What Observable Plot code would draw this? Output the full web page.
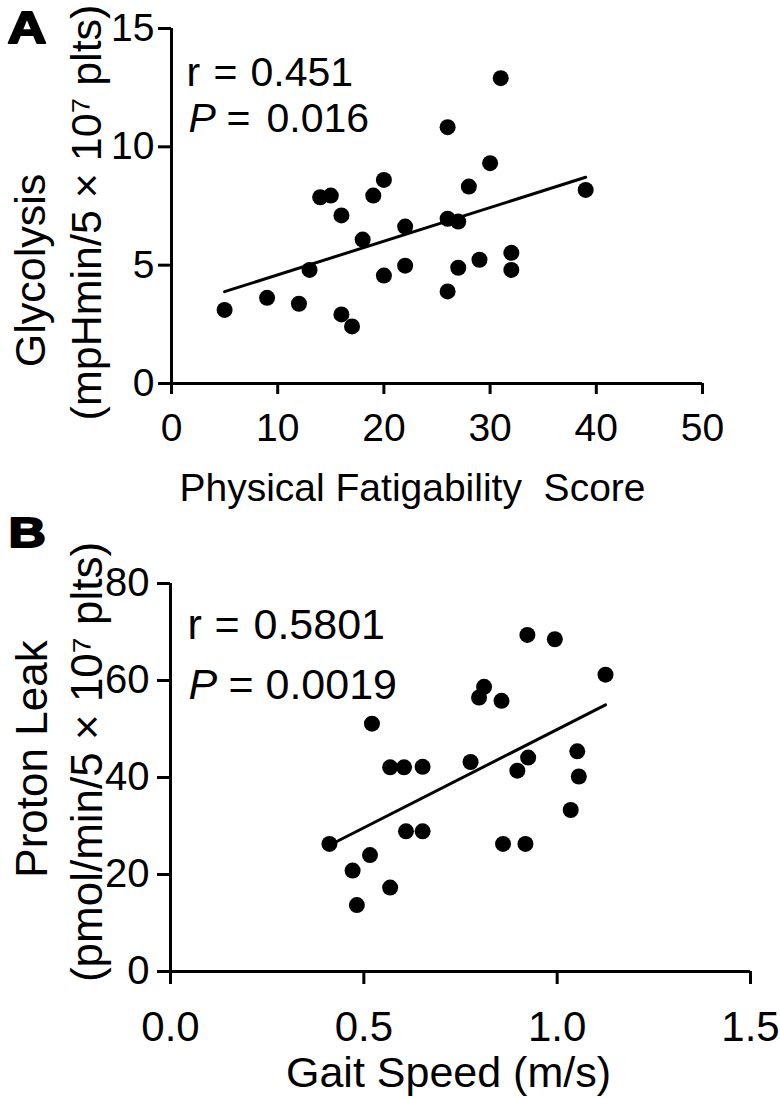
<!DOCTYPE html>
<html>
<head>
<meta charset="utf-8">
<script src="https://cdn.jsdelivr.net/npm/d3@7"></script>
<script src="https://cdn.jsdelivr.net/npm/@observablehq/plot@0.6"></script>
<style>
  html, body { margin: 0; padding: 0; background: #fff; }
  #chart { position: relative; width: 780px; height: 1098px; background: #fff; }
  #chart svg { display: block; }
</style>
</head>
<body>
<div id="chart"></div>
<script>
// ---------- Panel A data ----------
const fatigability = [5, 9, 12, 13, 14, 15, 16, 16, 17, 18, 19, 20, 20, 22, 22, 26, 26, 26, 27, 27, 28, 29, 30, 31, 32, 32, 39];
const glycolysis   = [3.11, 3.62, 3.37, 4.80, 7.87, 7.94, 7.10, 2.92, 2.41, 6.08, 7.94, 8.60, 4.56, 6.63, 4.98, 10.83, 6.96, 3.89, 6.84, 4.89, 8.32, 5.23, 9.31, 12.90, 5.52, 4.80, 8.18];
const xDomainA = [0, 50];
const yDomainA = [0, 15];
const xTicksA = [0, 10, 20, 30, 40, 50];
const yTicksA = [0, 5, 10, 15];
const statsA = {r: "0.451", p: "0.016"};

// ---------- Panel B data ----------
const gaitSpeed  = [0.411, 0.471, 0.482, 0.516, 0.521, 0.568, 0.568, 0.604, 0.609, 0.652, 0.652, 0.776, 0.798, 0.811, 0.856, 0.860, 0.897, 0.923, 0.925, 0.918, 0.994, 1.035, 1.052, 1.056, 1.125];
const protonLeak = [26.3, 20.8, 13.7, 24.0, 51.1, 17.3, 42.1, 42.1, 28.9, 42.2, 28.9, 43.2, 56.5, 58.7, 55.8, 26.3, 41.4, 69.4, 44.1, 26.3, 68.5, 33.3, 45.4, 40.2, 61.2];
const xDomainB = [0, 1.5];
const yDomainB = [0, 80];
const xTicksB = [0, 0.5, 1.0, 1.5];
const yTicksB = [0, 20, 40, 60, 80];
const statsB = {r: "0.5801", p: "0.0019"};

const FONT = "'Liberation Sans', Arial, Helvetica, sans-serif";

const dataA = fatigability.map((x, i) => ({x, y: glycolysis[i]}));
const dataB = gaitSpeed.map((x, i) => ({x, y: protonLeak[i]}));

// text placed at a pixel spot of the svg (frame top-left + offset)
function label(txt, px, py, M, opts = {}) {
  return Plot.text([txt], {
    frameAnchor: "top-left",
    dx: px - M.left,
    dy: py - M.top,
    lineAnchor: "bottom",
    textAnchor: "start",
    fill: "black",
    ...opts
  });
}

function panel(cfg) {
  const M = cfg.margin;
  const svg = Plot.plot({
    width: 780,
    height: cfg.height,
    marginLeft: M.left, marginRight: M.right, marginTop: M.top, marginBottom: M.bottom,
    style: {fontFamily: FONT, color: "black", background: "transparent", overflow: "visible"},
    x: {domain: cfg.xDomain, label: null},
    y: {domain: cfg.yDomain, label: null},
    marks: [
      Plot.axisX({ticks: cfg.xTicks, tickSize: cfg.xTickSize, tickPadding: cfg.xTickPad, strokeWidth: 3,
                  fontSize: cfg.xTickFont, tickFormat: cfg.xFormat, label: null}),
      Plot.axisY({ticks: cfg.yTicks, tickSize: cfg.yTickSize, tickPadding: cfg.yTickPad, strokeWidth: 3,
                  fontSize: cfg.yTickFont, tickFormat: d => String(d), label: null}),
      Plot.ruleY([cfg.yDomain[0]], {x1: cfg.xDomain[0], x2: cfg.xDomain[1], stroke: "black", strokeWidth: 3}),
      Plot.ruleX([cfg.xDomain[0]], {y1: cfg.yDomain[0], y2: cfg.yDomain[1], stroke: "black", strokeWidth: 3}),
      Plot.linearRegressionY(cfg.data, {x: "x", y: "y", stroke: "black", strokeWidth: 3, ci: 0}),
      Plot.dot(cfg.data, {x: "x", y: "y", r: 8, fill: "black", stroke: "none"}),
      // panel letter
      label(cfg.letter, cfg.letterPos[0], cfg.letterPos[1], M, {fontSize: cfg.letterFont, fontWeight: "bold",
            stroke: "black", strokeWidth: 2, className: "panel-letter"}),
      // stats annotation
      label("r", cfg.ann.r[0], cfg.ann.r[1], M, {fontSize: cfg.annFont}),
      label("=", cfg.ann.req[0], cfg.ann.r[1], M, {fontSize: cfg.annFont}),
      label(cfg.stats.r, cfg.ann.rv[0], cfg.ann.r[1], M, {fontSize: cfg.annFont}),
      label("P", cfg.ann.p[0], cfg.ann.p[1], M, {fontSize: cfg.annFont, fontStyle: "italic"}),
      label("=", cfg.ann.peq[0], cfg.ann.p[1], M, {fontSize: cfg.annFont}),
      label(cfg.stats.p, cfg.ann.pv[0], cfg.ann.p[1], M, {fontSize: cfg.annFont}),
      // x axis title
      label(cfg.xTitle, cfg.xTitlePos[0], cfg.xTitlePos[1], M, {fontSize: cfg.xTitleFont, textAnchor: "middle"}),
      // y axis titles (two lines)
      label(cfg.yTitle1, cfg.yTitle1Pos[0], cfg.yTitle1Pos[1], M, {fontSize: cfg.yTitleFont, textAnchor: "middle", rotate: -90}),
      label(cfg.yTitle2, cfg.yTitle2Pos[0], cfg.yTitle2Pos[1], M, {fontSize: cfg.yTitleFont, textAnchor: "middle", rotate: -90})
    ]
  });
  // widen the heavy panel letter like the reference
  d3.select(svg).selectAll(".panel-letter text").each(function() {
    const t = this.getAttribute("transform") || "";
    this.setAttribute("transform", t + " scale(1.2,1)");
  });
  return svg;
}

const svgA = panel({
  height: 520,
  margin: {left: 171, right: 78, top: 28, bottom: 137},
  data: dataA, xDomain: xDomainA, yDomain: yDomainA, xTicks: xTicksA, yTicks: yTicksA,
  xFormat: d => String(d),
  xTickSize: 11, xTickPad: 19, xTickFont: 39,
  yTickSize: 13, yTickPad: 4, yTickFont: 39,
  letter: "A", letterPos: [7, 42], letterFont: 45,
  stats: statsA, annFont: 41,
  ann: {r: [186, 85], req: [213, 85], rv: [250, 85], p: [188, 131], peq: [226, 131], pv: [266, 131]},
  xTitle: "Physical Fatigability\u00a0 Score", xTitlePos: [412, 500], xTitleFont: 39,
  yTitle1: "Glycolysis", yTitle1Pos: [44, 270], 
  yTitle2: "(mpHmin/5 \u00d7 10\u2077 plts)", yTitle2Pos: [100, 212], yTitleFont: 43
});

const svgB = panel({
  height: 578,
  margin: {left: 170, right: 30, top: 63, bottom: 127},
  data: dataB, xDomain: xDomainB, yDomain: yDomainB, xTicks: xTicksB, yTicks: yTicksB,
  xFormat: d3.format(".1f"),
  xTickSize: 13, xTickPad: 27, xTickFont: 42,
  yTickSize: 13, yTickPad: 8, yTickFont: 40,
  letter: "B", letterPos: [8, 26], letterFont: 43,
  stats: statsB, annFont: 43,
  ann: {r: [187, 118], req: [214, 118], rv: [253, 118], p: [188, 178], peq: [228, 178], pv: [265, 178]},
  xTitle: "Gait Speed (m/s)", xTitlePos: [448, 566], xTitleFont: 43,
  yTitle1: "Proton Leak", yTitle1Pos: [46, 238.5],
  yTitle2: "(pmol/min/5 \u00d7 10\u2077 plts)", yTitle2Pos: [101.5, 241.5], yTitleFont: 44
});

const root = document.getElementById("chart");
root.appendChild(svgA);
root.appendChild(svgB);
</script>
</body>
</html>
